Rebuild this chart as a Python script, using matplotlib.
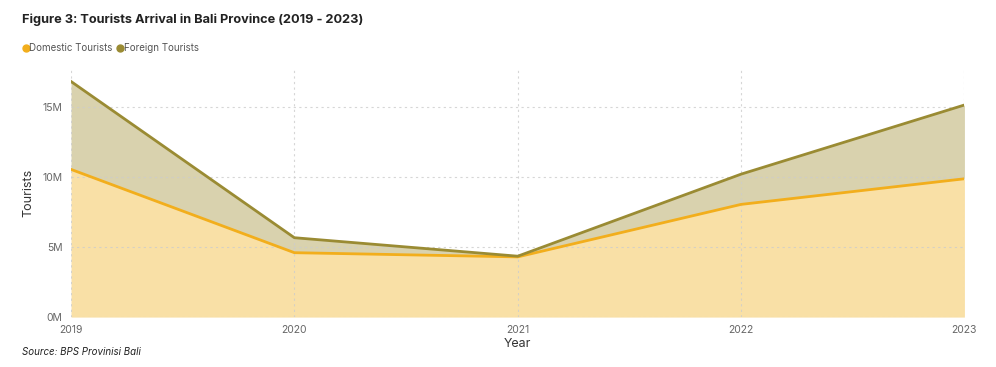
import matplotlib.pyplot as plt
from matplotlib.lines import Line2D
from matplotlib.ticker import FuncFormatter

plt.rcParams['font.family'] = ['Inter', 'DejaVu Sans']

years = [2019, 2020, 2021, 2022, 2023]
domestic = [10.55e6, 4.60e6, 4.30e6, 8.05e6, 9.88e6]
foreign = [6.28e6, 1.07e6, 0.05e6, 2.16e6, 5.27e6]

dom_line = '#F2AE1C'
dom_fill = '#F9E0A6'
for_line = '#9A8B33'
for_fill = '#D9D2AE'

total = [d + f for d, f in zip(domestic, foreign)]

fig = plt.figure(figsize=(9.96, 3.67), dpi=100)
ax = fig.add_axes([0.0713, 0.136, 0.897, 0.679])

ax.fill_between(years, 0, domestic, color=dom_fill, lw=0, zorder=1)
ax.fill_between(years, domestic, total, color=for_fill, lw=0, zorder=1)
ax.plot(years, domestic, color=dom_line, lw=2, zorder=3)
ax.plot(years, total, color=for_line, lw=2, zorder=3)

ax.set_xlim(2019, 2023)
ax.set_ylim(0, 17.8e6)
ax.set_xticks(years)
ax.set_yticks([0, 5e6, 10e6, 15e6])
ax.yaxis.set_major_formatter(FuncFormatter(lambda v, p: f'{v / 1e6:.0f}M'))
ax.set_axisbelow(False)
ax.grid(True, color='#cccccc', ls=(0, (2, 3)), lw=0.8, zorder=2, alpha=0.8)
for s in ax.spines.values():
    s.set_visible(False)
ax.tick_params(length=0, labelsize=7.5, labelcolor='#666666', pad=6)
ax.set_xlabel('Year', fontsize=9, color='#333333', labelpad=2)
ax.set_ylabel('Tourists', fontsize=9, color='#333333', labelpad=6)

fig.text(0.022, 0.945, 'Figure 3: Tourists Arrival in Bali Province (2019 - 2023)',
         fontsize=9.2, fontweight='bold', color='#222222', va='center')
handles = [Line2D([], [], marker='o', ls='', color=dom_line, markersize=5),
           Line2D([], [], marker='o', ls='', color=for_line, markersize=5)]
fig.legend(handles, ['Domestic Tourists', 'Foreign Tourists'], loc='center left',
           bbox_to_anchor=(0.012, 0.869), ncol=2, frameon=False, fontsize=7,
           handlelength=1.0, handletextpad=-0.1, columnspacing=0.2,
           labelcolor='#555555')
fig.text(0.022, 0.04, 'Source: BPS Provinisi Bali', fontsize=7,
         style='italic', color='#222222', va='center')

fig.savefig('out.png', dpi=100)
